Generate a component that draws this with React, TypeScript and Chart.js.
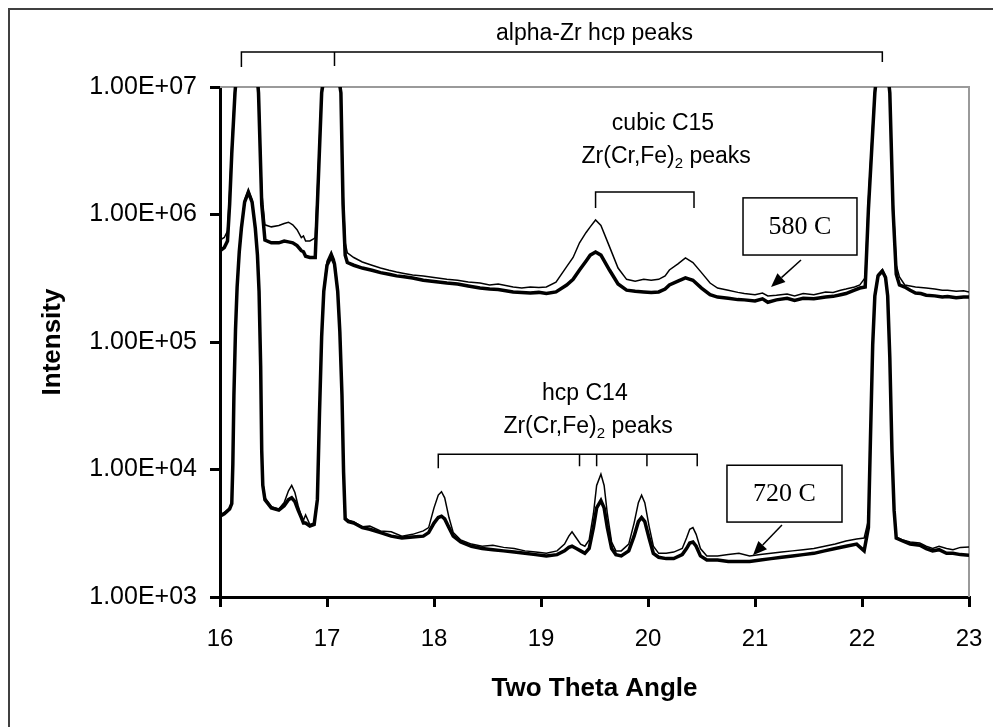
import { useEffect, useRef } from "react";
import { Chart, registerables } from "chart.js";

Chart.register(...registerables);

// ---------- data ----------
const angles580 = [
  16.0, 16.04, 16.07, 16.09, 16.11, 16.14, 16.18, 16.25, 16.32, 16.36, 16.39, 16.42, 16.48, 16.55, 16.6, 16.64,
  16.68, 16.72, 16.76, 16.78, 16.8, 16.84, 16.87, 16.89, 16.91, 16.95, 17.04, 17.13, 17.15, 17.17, 17.19, 17.25,
  17.33, 17.42, 17.5, 17.58, 17.65, 17.72, 17.8, 17.9, 18.0, 18.12, 18.22, 18.32, 18.43, 18.52, 18.6, 18.74,
  18.82, 18.9, 18.98, 19.05, 19.14, 19.24, 19.3, 19.36, 19.42, 19.46, 19.51, 19.56, 19.64, 19.72, 19.8, 19.88,
  19.96, 20.03, 20.1, 20.16, 20.2, 20.28, 20.35, 20.42, 20.5, 20.58, 20.65, 20.75, 20.84, 20.9, 21.0, 21.07,
  21.12, 21.2, 21.3, 21.37, 21.45, 21.55, 21.66, 21.73, 21.8, 21.85, 21.93, 21.98, 22.03, 22.06, 22.12, 22.19,
  22.26, 22.29, 22.32, 22.35, 22.4, 22.45, 22.5, 22.55, 22.6, 22.68, 22.75, 22.8, 22.88, 22.95, 23.0,
];
const thin580 = [
  6.3e5, 6.6e5, 7.4e5, 1.5e6, 3.5e6, 1e7, 2.5e7, 3.5e7, 2.5e7, 1e7, 1.5e6, 8.3e5, 8.0e5, 8.2e5, 8.5e5, 8.7e5,
  8.3e5, 7.6e5, 6.6e5, 6.8e5, 6.2e5, 6.2e5, 6.4e5, 6.6e5, 1.5e6, 1e7, 3e7, 1e7, 1.5e6, 6e5, 5.0e5, 4.6e5,
  4.24e5, 4.0e5, 3.8e5, 3.65e5, 3.54e5, 3.45e5, 3.36e5, 3.3e5, 3.2e5, 3.1e5, 3.05e5, 2.95e5, 2.9e5, 2.8e5, 2.85e5, 2.7e5,
  2.65e5, 2.7e5, 2.68e5, 2.7e5, 2.95e5, 3.9e5, 4.6e5, 6e5, 7.2e5, 8e5, 9.06e5, 8.2e5, 5.6e5, 3.8e5, 3.1e5, 3.0e5,
  3.1e5, 3.05e5, 3.1e5, 3.3e5, 3.67e5, 4.1e5, 4.56e5, 4.2e5, 3.5e5, 2.9e5, 2.65e5, 2.55e5, 2.45e5, 2.4e5, 2.35e5, 2.42e5,
  2.3e5, 2.33e5, 2.38e5, 2.3e5, 2.4e5, 2.35e5, 2.47e5, 2.45e5, 2.55e5, 2.6e5, 2.7e5, 2.8e5, 3.2e5, 1.3e6, 1e7, 3.5e7,
  1e7, 1.3e6, 4e5, 3.24e5, 2.8e5, 2.75e5, 2.7e5, 2.68e5, 2.65e5, 2.6e5, 2.55e5, 2.55e5, 2.5e5, 2.52e5, 2.47e5,
];
const thick580 = [
  5.2e5, 5.5e5, 6.2e5, 1.2e6, 3e6, 9e6, 2.3e7, 3.3e7, 2.3e7, 9e6, 1.2e6, 6.3e5, 6.0e5, 6.0e5, 6.2e5, 6.1e5,
  6.0e5, 5.7e5, 5.2e5, 5.1e5, 4.7e5, 4.6e5, 4.6e5, 4.6e5, 1.2e6, 9e6, 2.8e7, 9e6, 1.2e6, 4.8e5, 4.2e5, 4.0e5,
  3.8e5, 3.65e5, 3.5e5, 3.4e5, 3.3e5, 3.25e5, 3.18e5, 3.05e5, 2.98e5, 2.9e5, 2.85e5, 2.75e5, 2.65e5, 2.6e5, 2.58e5, 2.47e5,
  2.45e5, 2.42e5, 2.45e5, 2.4e5, 2.47e5, 2.8e5, 3.1e5, 3.67e5, 4.3e5, 4.8e5, 5.08e5, 4.8e5, 3.67e5, 2.85e5, 2.55e5, 2.5e5,
  2.47e5, 2.45e5, 2.47e5, 2.6e5, 2.8e5, 3.0e5, 3.18e5, 3.05e5, 2.65e5, 2.35e5, 2.25e5, 2.2e5, 2.15e5, 2.14e5, 2.1e5, 2.18e5,
  2.05e5, 2.14e5, 2.2e5, 2.12e5, 2.2e5, 2.18e5, 2.25e5, 2.28e5, 2.35e5, 2.4e5, 2.55e5, 2.65e5, 2.7e5, 1.1e6, 9e6, 3.3e7,
  9e6, 1.1e6, 3.4e5, 2.8e5, 2.7e5, 2.55e5, 2.42e5, 2.4e5, 2.33e5, 2.3e5, 2.25e5, 2.27e5, 2.22e5, 2.25e5, 2.25e5,
];

const angles720 = [
  16.0, 16.04, 16.09, 16.11, 16.12, 16.13, 16.145, 16.16, 16.18, 16.2,
  16.23, 16.265, 16.3, 16.33, 16.35, 16.365, 16.38, 16.39, 16.4, 16.42,
  16.48, 16.55, 16.6, 16.64, 16.67, 16.7, 16.73, 16.76, 16.78, 16.8,
  16.84, 16.88, 16.91, 16.93, 16.95, 16.97, 17.0, 17.04, 17.07, 17.1,
  17.12, 17.14, 17.155, 17.17, 17.2, 17.25, 17.33, 17.4, 17.5, 17.6,
  17.7, 17.8, 17.9, 17.95, 18.0, 18.04, 18.07, 18.1, 18.14, 18.18,
  18.25, 18.35, 18.45, 18.55, 18.65, 18.75, 18.85, 18.95, 19.05, 19.15,
  19.22, 19.26, 19.29, 19.33, 19.37, 19.41, 19.45, 19.49, 19.52, 19.56,
  19.59, 19.62, 19.66, 19.7, 19.75, 19.82, 19.87, 19.91, 19.94, 19.97,
  20.01, 20.05, 20.1, 20.17, 20.24, 20.32, 20.36, 20.39, 20.42, 20.45,
  20.49, 20.55, 20.65, 20.75, 20.85, 20.95, 21.05, 21.15, 21.25, 21.35,
  21.45, 21.55, 21.65, 21.75, 21.85, 21.95, 22.02, 22.06, 22.08, 22.1,
  22.12, 22.15, 22.19, 22.22, 22.24, 22.26, 22.28, 22.3, 22.32, 22.38,
  22.45, 22.54, 22.6, 22.66, 22.72, 22.79, 22.85, 22.92, 23.0,
];
const thin720 = [
  4.4e3, 4.6e3, 5.0e3, 5.5e3, 1.2e4, 4e4, 1.3e5, 2.8e5, 5.3e5, 8e5,
  1.3e6, 1.55e6, 1.3e6, 8e5, 5e5, 2.6e5, 7e4, 1.5e4, 8e3, 6e3,
  5.1e3, 4.9e3, 5.5e3, 6.8e3, 7.5e3, 6.6e3, 5.2e3, 4.3e3, 4.0e3, 4.4e3,
  3.7e3, 3.8e3, 6e3, 3e4, 1.2e5, 2.6e5, 4.3e5, 5.1e5, 4.4e5, 2.6e5,
  1.3e5, 4e4, 1e4, 4.2e3, 4.0e3, 3.9e3, 3.55e3, 3.6e3, 3.3e3, 3.25e3,
  3.0e3, 3.1e3, 3.3e3, 3.5e3, 5.0e3, 6.3e3, 6.7e3, 6.0e3, 4.2e3, 3.2e3,
  2.8e3, 2.6e3, 2.5e3, 2.55e3, 2.45e3, 2.4e3, 2.3e3, 2.25e3, 2.2e3, 2.3e3,
  2.6e3, 3.0e3, 3.25e3, 2.9e3, 2.6e3, 2.5e3, 2.8e3, 4.5e3, 7.5e3, 9.2e3,
  7.5e3, 4.5e3, 2.7e3, 2.3e3, 2.3e3, 2.6e3, 3.8e3, 5.5e3, 6.3e3, 5.5e3,
  3.6e3, 2.5e3, 2.2e3, 2.2e3, 2.25e3, 2.4e3, 2.9e3, 3.4e3, 3.5e3, 3.1e3,
  2.4e3, 2.1e3, 2.1e3, 2.15e3, 2.2e3, 2.1e3, 2.15e3, 2.2e3, 2.25e3, 2.3e3,
  2.35e3, 2.4e3, 2.5e3, 2.6e3, 2.75e3, 2.85e3, 2.9e3, 4e3, 2e4, 1e5,
  2.4e5, 3.4e5, 3.7e5, 3.3e5, 2.4e5, 8e4, 1.5e4, 5e3, 2.95e3, 2.8e3,
  2.7e3, 2.65e3, 2.5e3, 2.4e3, 2.5e3, 2.4e3, 2.35e3, 2.45e3, 2.47e3,
];
const thick720 = [
  4.3e3, 4.5e3, 4.9e3, 5.4e3, 1.1e4, 3.8e4, 1.25e5, 2.7e5, 5.1e5, 7.8e5,
  1.25e6, 1.5e6, 1.25e6, 7.8e5, 4.8e5, 2.5e5, 6.5e4, 1.4e4, 7.5e3, 5.8e3,
  5.0e3, 4.8e3, 5.2e3, 5.8e3, 6.0e3, 5.6e3, 4.8e3, 4.2e3, 3.8e3, 3.8e3,
  3.6e3, 3.7e3, 5.8e3, 2.8e4, 1.1e5, 2.5e5, 4.0e5, 4.7e5, 4.1e5, 2.5e5,
  1.2e5, 3.8e4, 9.5e3, 4.1e3, 3.9e3, 3.8e3, 3.5e3, 3.4e3, 3.2e3, 3.0e3,
  2.9e3, 2.95e3, 3.0e3, 3.2e3, 3.8e3, 4.2e3, 4.3e3, 4.1e3, 3.5e3, 3.0e3,
  2.7e3, 2.5e3, 2.4e3, 2.35e3, 2.3e3, 2.25e3, 2.2e3, 2.15e3, 2.1e3, 2.15e3,
  2.3e3, 2.45e3, 2.5e3, 2.4e3, 2.3e3, 2.2e3, 2.4e3, 3.5e3, 5.0e3, 5.7e3,
  5.0e3, 3.5e3, 2.4e3, 2.15e3, 2.1e3, 2.3e3, 3.0e3, 3.9e3, 4.2e3, 3.9e3,
  2.9e3, 2.2e3, 2.05e3, 2.0e3, 2.0e3, 2.15e3, 2.4e3, 2.65e3, 2.7e3, 2.5e3,
  2.1e3, 1.95e3, 1.95e3, 1.9e3, 1.9e3, 1.9e3, 1.95e3, 2.0e3, 2.05e3, 2.1e3,
  2.15e3, 2.2e3, 2.3e3, 2.4e3, 2.5e3, 2.6e3, 2.3e3, 3.5e3, 1.9e4, 9.5e4,
  2.3e5, 3.3e5, 3.6e5, 3.2e5, 2.3e5, 7.5e4, 1.4e4, 4.8e3, 2.9e3, 2.75e3,
  2.6e3, 2.55e3, 2.4e3, 2.3e3, 2.35e3, 2.2e3, 2.2e3, 2.15e3, 2.13e3,
];

const xTicks = [16, 17, 18, 19, 20, 21, 22, 23];
const yTicks = [1e3, 1e4, 1e5, 1e6, 1e7];
const yTickLabels = ["1.00E+03", "1.00E+04", "1.00E+05", "1.00E+06", "1.00E+07"];

// annotation anchors (data coordinates)
const alphaZrPeaks = [16.2, 17.07, 22.19];
const c15Peaks = [19.51, 20.43];
const c14Peaks = [18.04, 19.36, 19.52, 19.99, 20.46];

const SANS = '"Liberation Sans", Arial, sans-serif';
const SERIF = '"Liberation Serif", "Times New Roman", serif';

function toPoints(xs: number[], ys: number[]) {
  return xs.map((x, i) => ({ x, y: ys[i] }));
}

function drawBracket(chart: any, xs: number[], yVal: number, depths: number[]) {
  const { ctx, scales } = chart;
  const py = scales.y.getPixelForValue(yVal);
  const px = xs.map((v) => scales.x.getPixelForValue(v));
  ctx.save();
  ctx.strokeStyle = "#000";
  ctx.lineWidth = 1.5;
  ctx.beginPath();
  ctx.moveTo(px[0], py + depths[0]);
  ctx.lineTo(px[0], py);
  ctx.lineTo(px[px.length - 1], py);
  ctx.lineTo(px[px.length - 1], py + depths[px.length - 1]);
  for (let i = 1; i < px.length - 1; i++) {
    ctx.moveTo(px[i], py);
    ctx.lineTo(px[i], py + depths[i]);
  }
  ctx.stroke();
  ctx.restore();
}

function drawCentered(chart: any, text: string, xVal: number, yVal: number) {
  const { ctx, scales } = chart;
  ctx.save();
  ctx.font = `23px ${SANS}`;
  ctx.fillStyle = "#000";
  ctx.textAlign = "center";
  ctx.textBaseline = "alphabetic";
  ctx.fillText(text, scales.x.getPixelForValue(xVal), scales.y.getPixelForValue(yVal));
  ctx.restore();
}

function drawFormula(chart: any, xVal: number, yVal: number) {
  const { ctx, scales } = chart;
  const cx = scales.x.getPixelForValue(xVal);
  const by = scales.y.getPixelForValue(yVal);
  const parts: [string, number, number][] = [
    ["Zr(Cr,Fe)", 23, 0],
    ["2", 15, 5],
    [" peaks", 23, 0],
  ];
  ctx.save();
  ctx.fillStyle = "#000";
  ctx.textBaseline = "alphabetic";
  ctx.textAlign = "left";
  let total = 0;
  for (const [t, s] of parts) {
    ctx.font = `${s}px ${SANS}`;
    total += ctx.measureText(t).width;
  }
  let x = cx - total / 2;
  for (const [t, s, dy] of parts) {
    ctx.font = `${s}px ${SANS}`;
    ctx.fillText(t, x, by + dy);
    x += ctx.measureText(t).width;
  }
  ctx.restore();
}

function drawLabelBox(chart: any, text: string, x0: number, x1: number, y0: number, y1: number) {
  const { ctx, scales } = chart;
  const l = scales.x.getPixelForValue(x0);
  const r = scales.x.getPixelForValue(x1);
  const t = scales.y.getPixelForValue(y0);
  const b = scales.y.getPixelForValue(y1);
  ctx.save();
  ctx.fillStyle = "#fff";
  ctx.fillRect(l, t, r - l, b - t);
  ctx.strokeStyle = "#000";
  ctx.lineWidth = 1.5;
  ctx.strokeRect(l, t, r - l, b - t);
  ctx.fillStyle = "#000";
  ctx.font = `26px ${SERIF}`;
  ctx.textAlign = "center";
  ctx.textBaseline = "middle";
  ctx.fillText(text, (l + r) / 2, (t + b) / 2 + 1);
  ctx.restore();
}

function drawArrow(chart: any, fx: number, fy: number, tx: number, ty: number) {
  const { ctx, scales } = chart;
  const x0 = scales.x.getPixelForValue(fx);
  const y0 = scales.y.getPixelForValue(fy);
  const x1 = scales.x.getPixelForValue(tx);
  const y1 = scales.y.getPixelForValue(ty);
  const ang = Math.atan2(y1 - y0, x1 - x0);
  const len = 14;
  const hw = 6;
  const bx = x1 - len * Math.cos(ang);
  const by = y1 - len * Math.sin(ang);
  ctx.save();
  ctx.strokeStyle = "#000";
  ctx.fillStyle = "#000";
  ctx.lineWidth = 1.5;
  ctx.beginPath();
  ctx.moveTo(x0, y0);
  ctx.lineTo(bx, by);
  ctx.stroke();
  ctx.beginPath();
  ctx.moveTo(x1, y1);
  ctx.lineTo(bx + hw * Math.sin(ang), by - hw * Math.cos(ang));
  ctx.lineTo(bx - hw * Math.sin(ang), by + hw * Math.cos(ang));
  ctx.closePath();
  ctx.fill();
  ctx.restore();
}

const decorPlugin = {
  id: "decor",
  beforeDraw(chart: any) {
    const { ctx } = chart;
    ctx.save();
    ctx.fillStyle = "#fff";
    ctx.fillRect(0, 0, chart.width, chart.height);
    ctx.strokeStyle = "#404040";
    ctx.lineWidth = 2;
    ctx.strokeRect(9, 9, chart.width + 40, chart.height + 40);
    ctx.restore();
  },
  beforeDatasetsDraw(chart: any) {
    const { ctx, chartArea: a } = chart;
    ctx.save();
    ctx.strokeStyle = "#9a9a9a";
    ctx.lineWidth = 2;
    ctx.beginPath();
    ctx.moveTo(a.left, a.top);
    ctx.lineTo(a.right, a.top);
    ctx.lineTo(a.right, a.bottom);
    ctx.stroke();
    ctx.restore();
  },
  afterDatasetsDraw(chart: any) {
    drawCentered(chart, "alpha-Zr hcp peaks", 19.5, 2.34e7);
    drawBracket(chart, alphaZrPeaks, 1.88e7, [15, 14, 10]);

    drawCentered(chart, "cubic C15", 20.14, 4.6e6);
    drawFormula(chart, 20.17, 2.54e6);
    drawBracket(chart, c15Peaks, 1.5e6, [16, 16]);

    drawCentered(chart, "hcp C14", 19.41, 3.5e4);
    drawFormula(chart, 19.44, 1.93e4);
    drawBracket(chart, c14Peaks, 1.32e4, [14, 12, 12, 12, 12]);

    drawLabelBox(chart, "580 C", 20.888, 21.953, 1.35e6, 4.81e5);
    drawArrow(chart, 21.43, 4.4e5, 21.15, 2.7e5);
    drawLabelBox(chart, "720 C", 20.738, 21.813, 1.08e4, 3.87e3);
    drawArrow(chart, 21.252, 3.67e3, 20.981, 2.13e3);
  },
};

export default function App() {
  const ref = useRef<HTMLCanvasElement | null>(null);

  useEffect(() => {
    if (!ref.current) return;
    const line = (data: { x: number; y: number }[], w: number) => ({
      data,
      borderColor: "#000",
      backgroundColor: "#000",
      borderWidth: w,
      pointRadius: 0,
      tension: 0,
      fill: false,
    });
    const chart = new Chart(ref.current, {
      type: "line",
      data: {
        datasets: [
          line(toPoints(angles580, thin580), 1.5),
          line(toPoints(angles580, thick580), 3.5),
          line(toPoints(angles720, thin720), 1.5),
          line(toPoints(angles720, thick720), 3.5),
        ],
      },
      options: {
        animation: false,
        responsive: false,
        devicePixelRatio: 1,
        layout: { padding: { left: 0, top: 87, right: 24, bottom: 0 } },
        plugins: { legend: { display: false }, tooltip: { enabled: false } },
        scales: {
          x: {
            type: "linear",
            min: 16,
            max: 23,
            afterFit: (s: any) => {
              s.height = 130;
              s.paddingLeft = 0;
              s.paddingRight = 0;
            },
            afterBuildTicks: (s: any) => {
              s.ticks = xTicks.map((v) => ({ value: v }));
            },
            ticks: {
              font: { family: SANS, size: 24 },
              color: "#000",
              padding: 18,
              maxRotation: 0,
              callback: (v: any) => String(v),
            },
            grid: {
              drawOnChartArea: false,
              drawTicks: true,
              tickLength: 10,
              tickColor: "#000",
              tickWidth: 3,
              color: "#000",
              lineWidth: 3,
            },
            border: { display: true, color: "#000", width: 3 },
            title: {
              display: true,
              text: "Two Theta Angle",
              color: "#000",
              font: { family: SANS, size: 26, weight: "bold" },
              padding: { top: 0, bottom: 23 },
            },
          },
          y: {
            type: "logarithmic",
            min: 1e3,
            max: 1e7,
            afterFit: (s: any) => {
              s.width = 220;
            },
            afterBuildTicks: (s: any) => {
              s.ticks = yTicks.map((v) => ({ value: v }));
            },
            ticks: {
              font: { family: SANS, size: 25 },
              color: "#000",
              padding: 13,
              callback: (v: any) => {
                const i = yTicks.indexOf(Number(v));
                return i >= 0 ? yTickLabels[i] : "";
              },
            },
            grid: {
              drawOnChartArea: false,
              drawTicks: true,
              tickLength: 10,
              tickColor: "#000",
              tickWidth: 3,
              color: "#000",
              lineWidth: 3,
            },
            border: { display: true, color: "#000", width: 3 },
            title: {
              display: true,
              text: "Intensity",
              color: "#000",
              font: { family: SANS, size: 26, weight: "bold" },
              padding: { top: 37, bottom: 0 },
            },
          },
        },
      },
      plugins: [decorPlugin],
    });
    return () => chart.destroy();
  }, []);

  return (
    <div style={{ position: "absolute", left: 0, top: 0, width: 993, height: 727 }}>
      <canvas ref={ref} width={993} height={727} style={{ display: "block", width: 993, height: 727 }} />
    </div>
  );
}
